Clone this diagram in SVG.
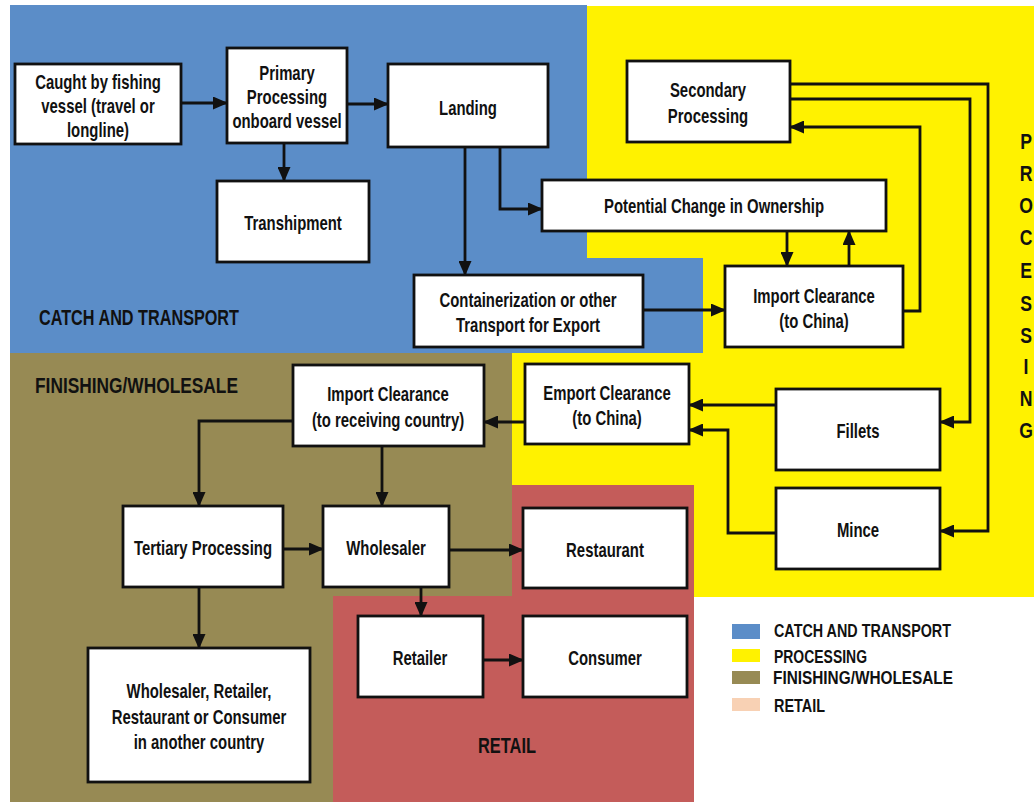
<svg xmlns="http://www.w3.org/2000/svg" width="1034" height="802" viewBox="0 0 1034 802">
<style>
.box{fill:#fff;stroke:#111;stroke-width:2.8}
.t{font-family:"Liberation Sans",Arial,sans-serif;font-weight:bold;font-size:20px;fill:#111;text-anchor:middle}
.lbl{font-family:"Liberation Sans",Arial,sans-serif;font-weight:bold;font-size:22px;fill:#111}
.leg{font-family:"Liberation Sans",Arial,sans-serif;font-weight:bold;font-size:19px;fill:#111}
.c{fill:none;stroke:#111;stroke-width:2.8;marker-end:url(#ah)}
</style>
<defs>
<marker id="ah" markerUnits="userSpaceOnUse" markerWidth="15" markerHeight="13" refX="14" refY="6.5" orient="auto">
<path d="M0,0 L15,6.5 L0,13 z" fill="#111"/>
</marker>
</defs>
<rect width="1034" height="802" fill="#fff"/>
<g id="regions">
<rect x="512" y="6" width="522" height="591" fill="#FFF200"/>
<polygon points="10,5 587,5 587,258 703,258 703,353 10,353" fill="#5B8DC8"/>
<rect x="10" y="353" width="502" height="449" fill="#978A54"/>
<polygon points="512,485 694,485 694,802 333,802 333,596 512,596" fill="#C45C5A"/>
<text class="lbl" x="39" y="325" textLength="200" lengthAdjust="spacingAndGlyphs">CATCH AND TRANSPORT</text>
<text class="lbl" x="35" y="393" textLength="203" lengthAdjust="spacingAndGlyphs">FINISHING/WHOLESALE</text>
<text class="lbl" x="478" y="753" textLength="58" lengthAdjust="spacingAndGlyphs">RETAIL</text>
<g class="lbl" text-anchor="middle" font-size="20">
<text transform="translate(1026 149) scale(.8 1)">P</text>
<text transform="translate(1026 181) scale(.8 1)">R</text>
<text transform="translate(1026 213) scale(.8 1)">O</text>
<text transform="translate(1026 245) scale(.8 1)">C</text>
<text transform="translate(1026 278) scale(.8 1)">E</text>
<text transform="translate(1026 311) scale(.8 1)">S</text>
<text transform="translate(1026 343) scale(.8 1)">S</text>
<text transform="translate(1026 374) scale(.8 1)">I</text>
<text transform="translate(1026 406) scale(.8 1)">N</text>
<text transform="translate(1026 438) scale(.8 1)">G</text>
</g>
</g>
<g id="connectors">
<path class="c" d="M181,103 H227"/>
<path class="c" d="M347,104 H388"/>
<path class="c" d="M284,143 V181"/>
<path class="c" d="M465,147 V275"/>
<path class="c" d="M500,147 V209 H542"/>
<path class="c" d="M643,310 H725"/>
<path class="c" d="M787,231 V266"/>
<path class="c" d="M849,266 V231"/>
<path class="c" d="M903,311 H920 V127 H790"/>
<path class="c" d="M790,99 H970 V422 H940"/>
<path class="c" d="M790,84 H988 V531 H940"/>
<path class="c" d="M776,405 H689"/>
<path class="c" d="M776,533 H728 V430 H689"/>
<path class="c" d="M525,422 H484"/>
<path class="c" d="M293,421 H199 V506"/>
<path class="c" d="M382,446 V506"/>
<path class="c" d="M283,549 H323"/>
<path class="c" d="M449,550 H523"/>
<path class="c" d="M421,587 V616"/>
<path class="c" d="M199,587 V648"/>
<path class="c" d="M483,660 H523"/>
</g>
<g id="n_caught"><rect class="box" x="15" y="64" width="166" height="80"/><text class="t" transform="translate(98 89) scale(.745 1)">Caught by fishing</text><text class="t" transform="translate(98 113) scale(.745 1)">vessel (travel or</text><text class="t" transform="translate(98 137) scale(.745 1)">longline)</text></g>
<g id="n_primary"><rect class="box" x="227" y="48" width="120" height="95"/><text class="t" transform="translate(287 80) scale(.745 1)">Primary</text><text class="t" transform="translate(287 104) scale(.745 1)">Processing</text><text class="t" transform="translate(287 128) scale(.745 1)">onboard vessel</text></g>
<g id="n_landing"><rect class="box" x="388" y="64" width="160" height="83"/><text class="t" transform="translate(468 115) scale(.745 1)">Landing</text></g>
<g id="n_tranship"><rect class="box" x="217" y="181" width="152" height="81"/><text class="t" transform="translate(293 230) scale(.745 1)">Transhipment</text></g>
<g id="n_container"><rect class="box" x="414" y="275" width="229" height="72"/><text class="t" transform="translate(528 307) scale(.745 1)">Containerization or other</text><text class="t" transform="translate(528 332) scale(.745 1)">Transport for Export</text></g>
<g id="n_secondary"><rect class="box" x="627" y="61" width="163" height="81"/><text class="t" transform="translate(708 97) scale(.745 1)">Secondary</text><text class="t" transform="translate(708 123) scale(.745 1)">Processing</text></g>
<g id="n_ownership"><rect class="box" x="542" y="180" width="344" height="51"/><text class="t" transform="translate(714 213) scale(.745 1)">Potential Change in Ownership</text></g>
<g id="n_import_china"><rect class="box" x="725" y="266" width="178" height="81"/><text class="t" transform="translate(814 303) scale(.745 1)">Import Clearance</text><text class="t" transform="translate(814 328) scale(.745 1)">(to China)</text></g>
<g id="n_emport"><rect class="box" x="525" y="364" width="164" height="80"/><text class="t" transform="translate(607 400) scale(.745 1)">Emport Clearance</text><text class="t" transform="translate(607 425) scale(.745 1)">(to China)</text></g>
<g id="n_fillets"><rect class="box" x="776" y="389" width="164" height="81"/><text class="t" transform="translate(858 438) scale(.745 1)">Fillets</text></g>
<g id="n_mince"><rect class="box" x="776" y="488" width="164" height="81"/><text class="t" transform="translate(858 537) scale(.745 1)">Mince</text></g>
<g id="n_import_recv"><rect class="box" x="293" y="365" width="191" height="81"/><text class="t" transform="translate(388 401) scale(.745 1)">Import Clearance</text><text class="t" transform="translate(388 427) scale(.745 1)">(to receiving country)</text></g>
<g id="n_tertiary"><rect class="box" x="123" y="506" width="160" height="81"/><text class="t" transform="translate(203 555) scale(.745 1)">Tertiary Processing</text></g>
<g id="n_wholesaler"><rect class="box" x="323" y="506" width="126" height="81"/><text class="t" transform="translate(386 555) scale(.745 1)">Wholesaler</text></g>
<g id="n_restaurant"><rect class="box" x="523" y="508" width="164" height="80"/><text class="t" transform="translate(605 557) scale(.745 1)">Restaurant</text></g>
<g id="n_retailer"><rect class="box" x="358" y="616" width="125" height="81"/><text class="t" transform="translate(420 665) scale(.745 1)">Retailer</text></g>
<g id="n_consumer"><rect class="box" x="523" y="616" width="164" height="81"/><text class="t" transform="translate(605 665) scale(.745 1)">Consumer</text></g>
<g id="n_other"><rect class="box" x="88" y="648" width="222" height="134"/><text class="t" transform="translate(199 698) scale(.745 1)">Wholesaler, Retailer,</text><text class="t" transform="translate(199 724) scale(.745 1)">Restaurant or Consumer</text><text class="t" transform="translate(199 749) scale(.745 1)">in another country</text></g>
<g id="legend">
<rect x="732" y="624" width="28" height="15" fill="#5B8DC8"/>
<rect x="732" y="649" width="28" height="13" fill="#FFF200"/>
<rect x="732" y="671" width="28" height="13" fill="#978A54"/>
<rect x="732" y="698" width="28" height="13" fill="#F8D1B4"/>
<text class="leg" x="774" y="637" textLength="177" lengthAdjust="spacingAndGlyphs">CATCH AND TRANSPORT</text>
<text class="leg" x="774" y="663" textLength="93" lengthAdjust="spacingAndGlyphs">PROCESSING</text>
<text class="leg" x="773" y="684" textLength="180" lengthAdjust="spacingAndGlyphs">FINISHING/WHOLESALE</text>
<text class="leg" x="774" y="712" textLength="51" lengthAdjust="spacingAndGlyphs">RETAIL</text>
</g>
</svg>
